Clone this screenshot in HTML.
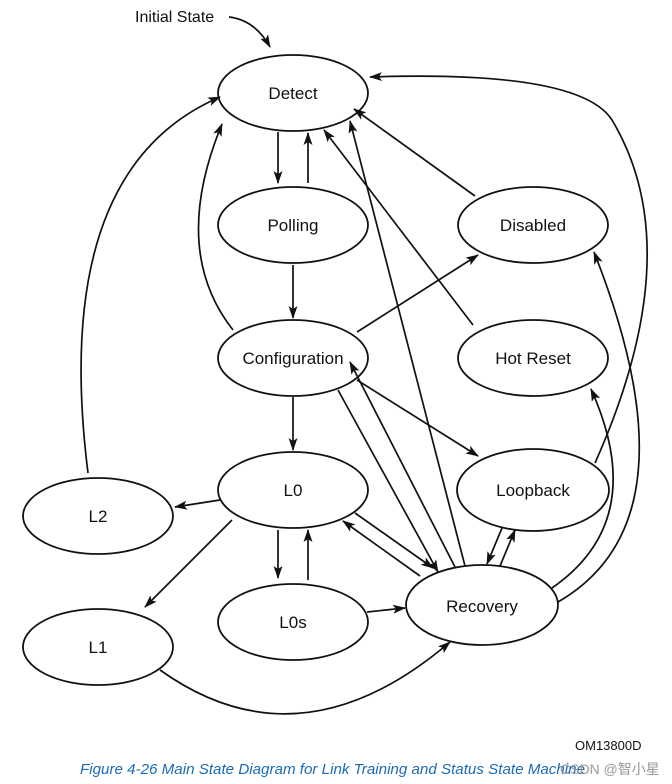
<!DOCTYPE html>
<html><head><meta charset="utf-8"><style>
body{margin:0;background:#fff;width:672px;height:784px;overflow:hidden}
svg{display:block}
text{font-family:"Liberation Sans",Arial,sans-serif;fill:#111}
</style></head><body>
<svg width="672" height="784" viewBox="0 0 672 784">
<defs><marker id="a" markerWidth="13" markerHeight="9" refX="12" refY="4.5" orient="auto" markerUnits="userSpaceOnUse"><path d="M0,0 L13,4.5 L0,9 L3,4.5Z" fill="#111"/></marker></defs>
<g fill="none" stroke="#111" stroke-width="1.8">
<ellipse cx="293" cy="93" rx="75" ry="38"/>
<ellipse cx="293" cy="225" rx="75" ry="38"/>
<ellipse cx="533" cy="225" rx="75" ry="38"/>
<ellipse cx="293" cy="358" rx="75" ry="38"/>
<ellipse cx="533" cy="358" rx="75" ry="38"/>
<ellipse cx="293" cy="490" rx="75" ry="38"/>
<ellipse cx="533" cy="490" rx="76" ry="41"/>
<ellipse cx="98" cy="516" rx="75" ry="38"/>
<ellipse cx="98" cy="647" rx="75" ry="38"/>
<ellipse cx="293" cy="622" rx="75" ry="38"/>
<ellipse cx="482" cy="605" rx="76" ry="40"/>
</g>
<g fill="none" stroke="#111" stroke-width="1.7" marker-end="url(#a)">
<path d="M229,17 Q255,20 270,47"/>
<path d="M278,132 L278,183"/>
<path d="M308,183 L308,133"/>
<path d="M293,265 L293,318"/>
<path d="M233,330 Q170,250 222,124"/>
<path d="M357,332 L478,255"/>
<path d="M293,397 L293,450"/>
<path d="M357,380 L478,456"/>
<path d="M338,390 L438,572"/>
<path d="M455,567 L350,362"/>
<path d="M220,500 L175,507"/>
<path d="M232,520 L145,607"/>
<path d="M278,530 L278,578"/>
<path d="M308,580 L308,530"/>
<path d="M355,513 L433,568"/>
<path d="M420,576 L343,521"/>
<path d="M367,612 L405,608"/>
<path d="M160,670 Q300,770 450,642"/>
<path d="M88,473 Q50,170 220,97"/>
<path d="M465,566 L350,121"/>
<path d="M473,325 L324,130"/>
<path d="M475,196 L354,109"/>
<path d="M595,463 Q690,250 612,120 Q580,70 370,77"/>
<path d="M558,602 Q700,520 594,252"/>
<path d="M552,588 Q650,520 591,389"/>
<path d="M502,528 L487,564"/>
<path d="M500,566 L515,530"/>
</g>
<g font-size="17" text-anchor="middle">
<text x="293" y="99">Detect</text>
<text x="293" y="231">Polling</text>
<text x="533" y="231">Disabled</text>
<text x="293" y="364">Configuration</text>
<text x="533" y="364">Hot Reset</text>
<text x="293" y="496">L0</text>
<text x="533" y="496">Loopback</text>
<text x="98" y="522">L2</text>
<text x="98" y="653">L1</text>
<text x="293" y="628">L0s</text>
<text x="482" y="612">Recovery</text>
</g>
<text x="135" y="22" font-size="16">Initial State</text>
<text x="575" y="750" font-size="13">OM13800D</text>
<text x="80" y="774" font-size="15" font-style="italic" textLength="505" lengthAdjust="spacingAndGlyphs" style="fill:#1a6bb5">Figure  4-26  Main State Diagram for Link Training and Status State Machine</text>
<text x="560" y="774" font-size="14" style="fill:#999;font-family:'Liberation Sans','Noto Sans CJK SC',sans-serif">CSDN @智小星</text>
</svg>
</body></html>
